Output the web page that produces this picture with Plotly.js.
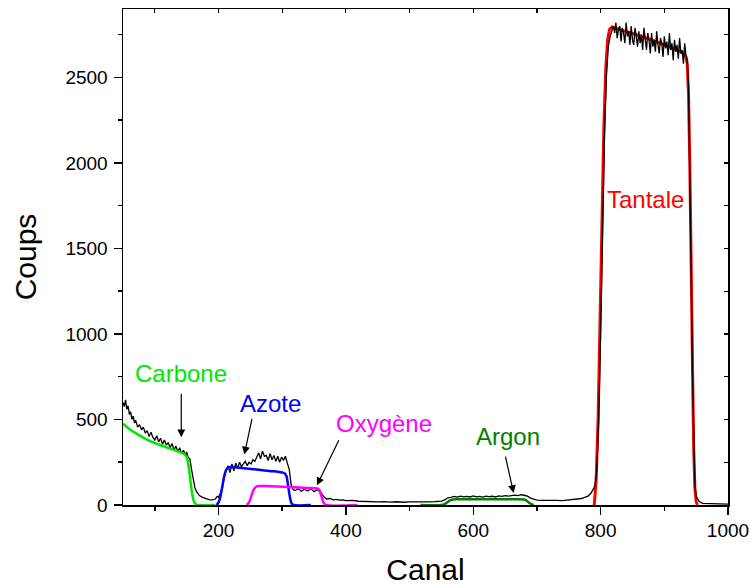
<!DOCTYPE html>
<html>
<head>
<meta charset="utf-8">
<script src="https://cdn.plot.ly/plotly-3.0.1.min.js"></script>
<style>html,body{margin:0;padding:0;background:#fff;}#chart{width:750px;height:586px;}</style>
</head>
<body>
<div id="chart"></div>
<script>
// Experimental spectrum (black)
const spectreX = [
  50,52,54,56,58,60,62,64,66,68,
  70,73,76,79,82,85,88,91,94,97,
  100,103,106,109,112,115,118,121,124,127,
  130,133,136,139,142,145,148,150,152,155,
  158,160,163,166,170,175,180,185,190,195,
  198,200,203,206,209,212,215,218,221,224,
  227,230,233,236,239,242,245,248,251,254,
  257,260,263,266,269,272,275,278,281,284,
  287,290,293,296,299,302,305,308,311,314,
  317,320,325,330,335,340,345,350,355,360,
  363,366,370,375,380,385,390,395,400,410,
  420,430,440,450,460,470,480,490,500,510,
  520,530,540,550,555,560,565,570,575,580,
  585,590,595,600,605,610,615,620,625,630,
  635,640,645,650,655,660,665,670,675,680,
  685,690,695,700,710,720,730,740,750,760,
  770,775,780,785,788,791,794,797,800,803,
  806,809,812,815,818,820,822,824,826,828,
  830,832,834,836,838,840,842,844,846,848,
  850,852,854,856,858,860,862,864,866,868,
  870,872,874,876,878,880,882,884,886,888,
  890,892,894,896,898,900,902,904,906,908,
  910,912,914,916,918,920,922,924,926,928,
  930,932,934,936,938,940,942,944,946,948,
  950,955,960,970,980,990,1000];
const spectreY = [
  600,575,615,560,580,530,545,500,520,480,
  495,455,470,440,455,420,435,400,425,395,
  380,405,370,390,355,380,350,365,335,360,
  320,345,310,335,300,320,290,310,280,270,
  200,150,100,75,55,45,38,32,30,35,
  50,45,70,100,160,205,230,190,240,200,
  245,215,250,225,240,255,230,250,240,265,
  255,280,305,270,315,285,290,260,300,265,
  290,255,285,250,280,260,285,245,210,120,
  90,85,95,80,92,82,95,78,90,76,
  60,45,35,38,30,33,28,30,25,27,
  22,20,22,18,20,17,19,16,18,17,
  20,18,20,23,30,42,45,50,46,52,
  48,50,47,53,48,50,46,52,49,51,
  47,53,50,55,52,56,58,55,60,57,
  52,40,32,28,27,25,27,26,30,32,
  38,45,52,70,90,110,200,500,1000,1600,
  2150,2500,2680,2740,2780,2800,2760,2820,2730,2780,
  2800,2710,2790,2760,2700,2820,2740,2770,2690,2800,
  2720,2690,2790,2740,2680,2770,2700,2750,2660,2790,
  2700,2660,2760,2720,2640,2760,2680,2720,2650,2770,
  2690,2640,2730,2700,2620,2740,2670,2710,2630,2760,
  2660,2700,2600,2720,2650,2690,2610,2730,2640,2660,
  2580,2700,2630,2600,2450,2000,1400,800,350,120,
  50,20,10,8,6,5,5];

// Fitted element contributions
const carboneX = [50,60,70,80,90,100,110,120,130,140,145,148,150,152,154,156,158,160,162,165,168,195];
const carboneY = [475,445,420,398,378,362,348,335,322,308,300,292,280,250,200,140,80,40,15,3,0,0];

const azoteX = [197,200,203,206,209,212,215,220,240,260,280,300,304,307,309,311,313,315,318,345];
const azoteY = [0,15,50,110,170,205,218,222,215,207,199,190,185,165,120,70,30,8,0,0];

const oxygeneX = [244,247,250,253,256,259,263,280,300,320,340,355,358,360,362,364,366,369,418];
const oxygeneY = [0,10,35,70,95,107,111,110,107,104,100,97,90,70,45,22,8,0,0];

const argonX = [517,550,555,560,565,570,600,650,680,684,688,692,695];
const argonY = [0,0,5,18,30,33,33,33,32,25,12,3,0];

const tantaleX = [790,793,796,799,802,805,808,811,814,818,822,840,860,880,900,920,930,934,936,938,940,942,944,946,948,950,952];
const tantaleY = [0,150,500,1100,1700,2200,2550,2720,2780,2795,2790,2770,2745,2720,2690,2660,2640,2620,2580,2400,2000,1400,800,350,100,20,0];

// Labels
const labelText = ['Carbone','Azote','Oxygène','Argon','Tantale'];
const labelColor = ['#00e600','#0000ff','#ff00ff','#008000','#ff0000'];
const labelX = [141.5, 281, 460, 655, 870];
const labelY = [770, 595, 478, 402, 1789];
const arrowTailX = [141.5, 253, 390, 650, null];
const arrowTailY = [659, 513, 388, 291, null];
const arrowHeadX = [141.5, 240.5, 354.6, 663.4, null];
const arrowHeadY = [396, 295, 115, 70, null];

const font = 'Arial, "Liberation Sans", sans-serif';

const traces = [
  {x: tantaleX, y: tantaleY, mode:'lines', line:{color:'#ff0000', width:3}, name:'Tantale', showlegend:false},
  {x: spectreX, y: spectreY, mode:'lines', line:{color:'#000000', width:1.3}, name:'Spectre', showlegend:false},
  {x: carboneX, y: carboneY, mode:'lines', line:{color:'#00e600', width:2.5, shape:'spline'}, name:'Carbone', showlegend:false},
  {x: azoteX, y: azoteY, mode:'lines', line:{color:'#0000ff', width:2.5, shape:'spline'}, name:'Azote', showlegend:false},
  {x: oxygeneX, y: oxygeneY, mode:'lines', line:{color:'#ff00ff', width:2.5, shape:'spline'}, name:'Oxygène', showlegend:false},
  {x: argonX, y: argonY, mode:'lines', line:{color:'#008000', width:2.5, shape:'spline'}, name:'Argon', showlegend:false},
  {x: [], y: [], xaxis:'x2', yaxis:'y2', mode:'lines', showlegend:false, hoverinfo:'skip'}
];

const annotations = [];
for (let i = 0; i < labelText.length; i++) {
  annotations.push({x: labelX[i], y: labelY[i], xref:'x', yref:'y', text: labelText[i], showarrow:false,
    font:{family:font, size:24, color:labelColor[i]}, xanchor:'center', yanchor:'middle'});
  if (arrowHeadX[i] !== null) {
    annotations.push({x: arrowHeadX[i], y: arrowHeadY[i], ax: arrowTailX[i], ay: arrowTailY[i],
      xref:'x', yref:'y', axref:'x', ayref:'y', text:'', showarrow:true,
      arrowhead:2, arrowsize:1.3, arrowwidth:1.2, arrowcolor:'#000000', standoff:0, startstandoff:0});
  }
}

const axisCommon = {
  showgrid:false, zeroline:false, showline:true, linecolor:'#000', linewidth:1.5, mirror:true,
  ticks:'outside', ticklen:8, tickwidth:1.5, tickcolor:'#000', ticklabeloverflow:'allow',
  tickfont:{family:font, size:19, color:'#000'}
};

const layout = {
  width:750, height:586,
  margin:{l:123, r:22, t:9, b:81, pad:0},
  paper_bgcolor:'#fff', plot_bgcolor:'#fff',
  font:{family:font, color:'#000'},
  showlegend:false,
  xaxis: Object.assign({}, axisCommon, {
    range:[50,1000], tick0:0, dtick:200,
    minor:{dtick:100, ticks:'outside', ticklen:4, tickwidth:1.5, tickcolor:'#000', showgrid:false},
    title:{text:'Canal', font:{family:font, size:30, color:'#000'}, standoff:20}
  }),
  yaxis: Object.assign({}, axisCommon, {
    range:[0,2900], tick0:0, dtick:500, ticklabelstandoff:2,
    minor:{dtick:250, ticks:'outside', ticklen:4, tickwidth:1.5, tickcolor:'#000', showgrid:false},
    title:{text:'Coups', font:{family:font, size:30, color:'#000'}, standoff:20}
  }),
  xaxis2: {overlaying:'x', side:'top', range:[50,1000], tick0:0, dtick:100, ticks:'inside', ticklen:4, tickwidth:1.2, tickcolor:'#000',
    showticklabels:false, showgrid:false, zeroline:false, showline:false},
  yaxis2: {overlaying:'y', side:'right', range:[0,2900], tick0:0, dtick:250, ticks:'inside', ticklen:4, tickwidth:1.2, tickcolor:'#000',
    showticklabels:false, showgrid:false, zeroline:false, showline:false},
  annotations: annotations
};

Plotly.newPlot('chart', traces, layout, {displayModeBar:false, staticPlot:true});
</script>
</body>
</html>
